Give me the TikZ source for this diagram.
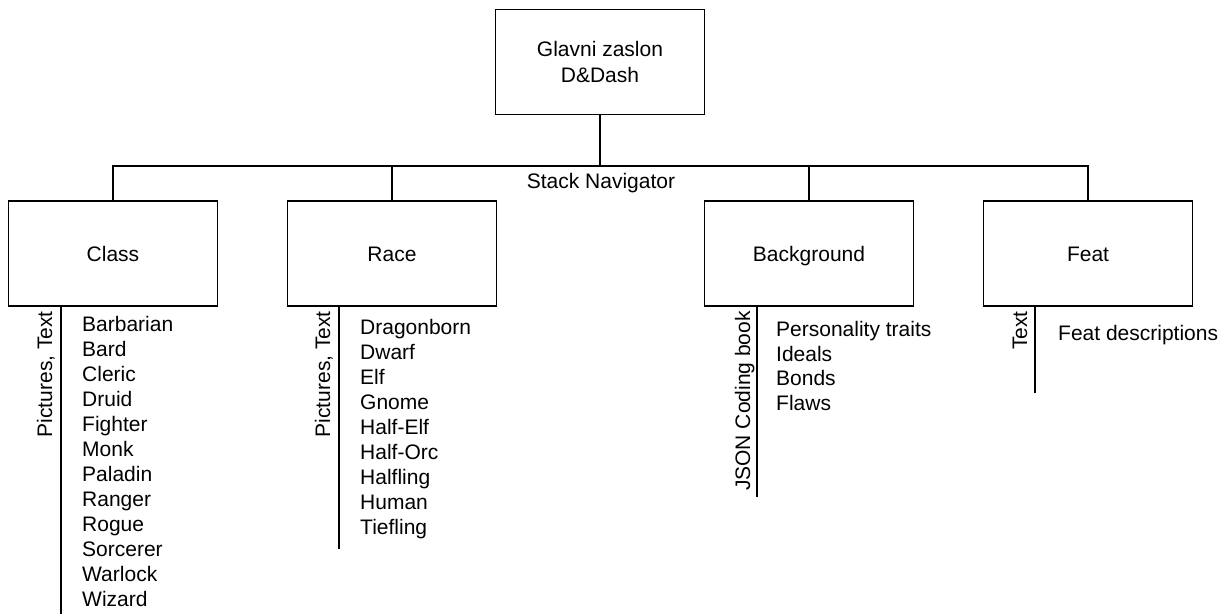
\documentclass[tikz,border=0pt]{standalone}
\usepackage{fontspec}
\setmainfont{Liberation Sans}
\begin{document}
\begin{tikzpicture}[x=1pt,y=-1pt,
  every node/.style={font=\fontsize{21}{26}\selectfont, text=black},
  screen/.style={draw, line width=1.3pt, minimum width=209pt, minimum height=105pt, inner sep=0pt, align=center},
  subscreen/.style={screen, text height=19pt, text depth=4pt},
  link/.style={line width=1.3pt},
  sidelabel/.style={rotate=90, anchor=base east, inner sep=0pt},
  item/.style={anchor=base west, inner sep=0pt}
]
\useasboundingbox (0,0) rectangle (1231,614);

% main screen and the four stack screens
\node[screen] (top) at (600,61.7) {Glavni zaslon\\D\&Dash};
\node[subscreen] (class) at (113,253.5) {Class};
\node[subscreen] (race) at (392,253.5) {Race};
\node[subscreen] (bg) at (809,253.5) {Background};
\node[subscreen] (feat) at (1088,253.5) {Feat};

% stack navigator bus
\coordinate (bus) at (600,166);
\draw[link] (top.south) -- (top.south |- bus);
\draw[link] (class.north) -- (class.north |- bus) -- (feat.north |- bus) -- (feat.north);
\draw[link] (race.north) -- (race.north |- bus);
\draw[link] (bg.north) -- (bg.north |- bus);
\node (nav) at (601,183) {Stack Navigator};

% content lines under each screen
\coordinate (classEnd) at (61,614);
\coordinate (raceEnd) at (339,549);
\coordinate (bgEnd) at (757,497);
\coordinate (featEnd) at (1035,393);
\draw[link] (class.south -| classEnd) -- (classEnd);
\draw[link] (race.south -| raceEnd) -- (raceEnd);
\draw[link] (bg.south -| bgEnd) -- (bgEnd);
\draw[link] (feat.south -| featEnd) -- (featEnd);

% data source labels
\node[sidelabel] (classSrc) at (52,311) {Pictures, Text};
\node[sidelabel] (raceSrc) at (330,311) {Pictures, Text};
\node[sidelabel] (bgSrc) at (750,311) {JSON Coding book};
\node[sidelabel] (featSrc) at (1027,311) {Text};

% content lists
\foreach \t [count=\i] in {Barbarian,Bard,Cleric,Druid,Fighter,Monk,Paladin,Ranger,Rogue,Sorcerer,Warlock,Wizard}
  \node[item] (cls\i) at (82,{331.5+25*(\i-1)}) {\t};
\foreach \t [count=\i] in {Dragonborn,Dwarf,Elf,Gnome,Half-Elf,Half-Orc,Halfling,Human,Tiefling}
  \node[item] (rc\i) at (360,{334.5+25*(\i-1)}) {\t};
\foreach \t [count=\i] in {Personality traits,Ideals,Bonds,Flaws}
  \node[item] (bgi\i) at (776,{336.5+24.7*(\i-1)}) {\t};
\node[item] (ft1) at (1058,340.5) {Feat descriptions};
\end{tikzpicture}
\end{document}
